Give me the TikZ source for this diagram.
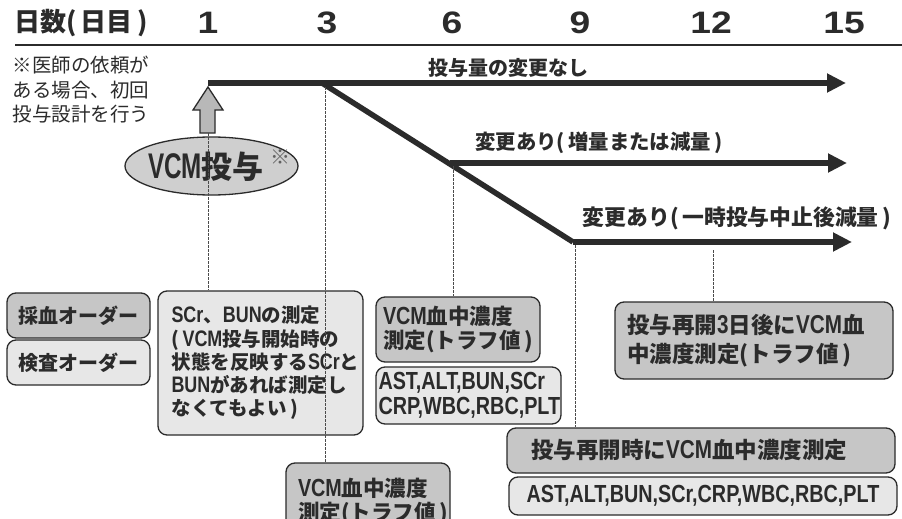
\documentclass[tikz,border=0pt]{standalone}
\usepackage{fontspec}
\setmainfont{Noto Sans CJK JP}
\newfontfamily\latfont[FakeStretch=0.8,Scale=1.15]{Liberation Sans}
\newfontfamily\numfont[FakeStretch=1.2]{Liberation Sans}
\newcommand\lat[1]{{\latfont\bfseries #1}}
\usetikzlibrary{arrows.meta,shapes.geometric}
\definecolor{ink}{HTML}{2B2B2B}
\definecolor{darkfill}{HTML}{C6C6C6}
\definecolor{lightfill}{HTML}{E7E7E7}
\definecolor{ellfill}{HTML}{CFCFCF}
\definecolor{blockfill}{HTML}{B8B8B8}
\begin{document}
\begin{tikzpicture}[x=1pt,y=-1pt,
  every node/.style={text=ink},
  bx/.style={draw=ink, line width=1.3pt, rounded corners=9pt, inner sep=0pt, font=\bfseries\fontsize{19.5}{23.3}\selectfont},
  dk/.style={bx, fill=darkfill},
  lt/.style={bx, fill=lightfill},
  flow/.style={draw=ink, line width=5.5pt, -{Triangle[length=19pt,width=18pt]}},
  guide/.style={draw=ink!85, line width=0.8pt, dash pattern=on 2.5pt off 1.5pt},
  lbl/.style={font=\bfseries\fontsize{20}{24}\selectfont},
  hdr/.style={font=\bfseries\fontsize{26}{30}\selectfont},
  num/.style={font=\numfont\bfseries\fontsize{31}{34}\selectfont},
]
\clip (0,0) rectangle (902,519);
\fill[white] (0,0) rectangle (902,519);

% header
\node[hdr] (hd) at (81,23) {日数(\,日目\,)};
\node[num] (d1) at (208,23) {1};
\node[num] (d3) at (327,23) {3};
\node[num] (d6) at (452,23) {6};
\node[num] (d9) at (580,23) {9};
\node[num] (d12) at (711,23) {12};
\node[num] (d15) at (844,23) {15};
\coordinate (hl0) at (15,45);
\coordinate (hl1) at (902,45);
\draw[ink, line width=1.2pt] (hl0) -- (hl1);

% note
\node[anchor=west, align=left, font=\fontsize{19.5}{24.5}\selectfont] (note) at (9,90) {※医師の依頼が\\ある場合、初回\\投与設計を行う};

% flow lines
\coordinate (a0) at (208,83);
\coordinate (a1) at (846,83);
\coordinate (b0) at (322,83);
\coordinate (m0) at (450,163);
\coordinate (m1) at (847,163);
\coordinate (c0) at (573,242);
\coordinate (c1) at (852,242);
\draw[flow] (a0) -- (a1);
\draw[draw=ink, line width=5.5pt] (b0) -- (c0);
\draw[flow] (m0) -- (m1);
\draw[flow] (c0) -- (c1);

\node[lbl] (l1) at (508,68) {投与量の変更なし};
\node[lbl, font=\bfseries\fontsize{20.4}{24}\selectfont] (l2) at (599,143) {変更あり(\,増量または減量\,)};
\node[lbl, font=\bfseries\fontsize{21.8}{24}\selectfont] (l3) at (737,218) {変更あり(\,一時投与中止後減量\,)};

% block arrow and ellipse
\node[ellipse, draw=ink, line width=1.3pt, fill=ellfill, minimum width=173pt, minimum height=58pt, inner sep=0pt] (vcm) at (211.5,166) {};
\node[font=\bfseries\fontsize{31}{32}\selectfont, anchor=center] (vcmt) at (206,167) {{\latfont\bfseries\scalebox{0.85}[1]{VCM}}投与};
\node[font=\fontsize{20}{20}\selectfont, text=ink!75] (star) at (280,157) {※};
\coordinate (up) at (208,87);
\draw[ink, line width=1.3pt, fill=blockfill] (up) -- ++(15,23) -- ++(-8,0) -- ++(0,23) -- ++(-15,0) -- ++(0,-23) -- ++(-7,0) -- cycle;

% boxes
\node[dk, minimum width=143pt, minimum height=45pt, font=\bfseries\fontsize{20}{24}\selectfont] (saiketsu) at (78.5,315.5) {採血オーダー};
\node[lt, minimum width=143pt, minimum height=45pt, font=\bfseries\fontsize{20}{24}\selectfont] (kensa) at (78.5,362.5) {検査オーダー};
\node[lt, minimum width=205pt, minimum height=144pt, text width=178pt, align=left] (scr) at (260.5,363) {\lat{SCr}、\lat{BUN}の測定\\(\,\lat{VCM}投与開始時の\\状態を反映する\lat{SCr}と\\\lat{BUN}があれば測定し\\なくてもよい\,)};
\node[dk, minimum width=164pt, minimum height=65pt, text width=150pt, align=left, font=\bfseries\fontsize{21.5}{24}\selectfont] (vcm6) at (458,329.5) {\lat{VCM}血中濃度\\測定(トラフ値\,)};
\node[lt, minimum width=185pt, minimum height=57pt, text width=180pt, align=left, font=\bfseries\fontsize{21.5}{25}\selectfont] (ast6) at (468.5,395.5) {\lat{AST,ALT,BUN,SCr}\\\lat{CRP,WBC,RBC,PLT}};
\node[dk, minimum width=164pt, minimum height=77pt, text width=140pt, align=left, font=\bfseries\fontsize{21.5}{24}\selectfont] (vcm3) at (368,501.5) {\lat{VCM}血中濃度\\測定(トラフ値\,)};
\node[dk, minimum width=278pt, minimum height=77pt, text width=254pt, align=left, font=\bfseries\fontsize{22.5}{29}\selectfont] (resume3) at (754,340.5) {投与再開\lat{3}日後に\lat{VCM}血\\中濃度測定(トラフ値\,)};
\node[dk, minimum width=388pt, minimum height=45pt, text width=340pt, align=left, font=\bfseries\fontsize{22.5}{26}\selectfont] (resume) at (701,450.5) {投与再開時に\lat{VCM}血中濃度測定};
\node[lt, minimum width=388pt, minimum height=38pt, font=\bfseries\fontsize{21.5}{25}\selectfont] (astL) at (703,496) {\lat{AST,ALT,BUN,SCr,CRP,WBC,RBC,PLT}};

% guide lines
\coordinate (g1) at (208,133);
\draw[guide] (g1) -- (g1 |- scr.north);
\coordinate (g2) at (325,87);
\draw[guide] (g2) -- (g2 |- vcm3.north);
\coordinate (g3) at (453,166);
\draw[guide] (g3) -- (g3 |- vcm6.north);
\coordinate (g4) at (575,245);
\draw[guide] (g4) -- (g4 |- resume.north);
\coordinate (g5) at (713,250);
\draw[guide] (g5) -- (g5 |- resume3.north);
\end{tikzpicture}
\end{document}
